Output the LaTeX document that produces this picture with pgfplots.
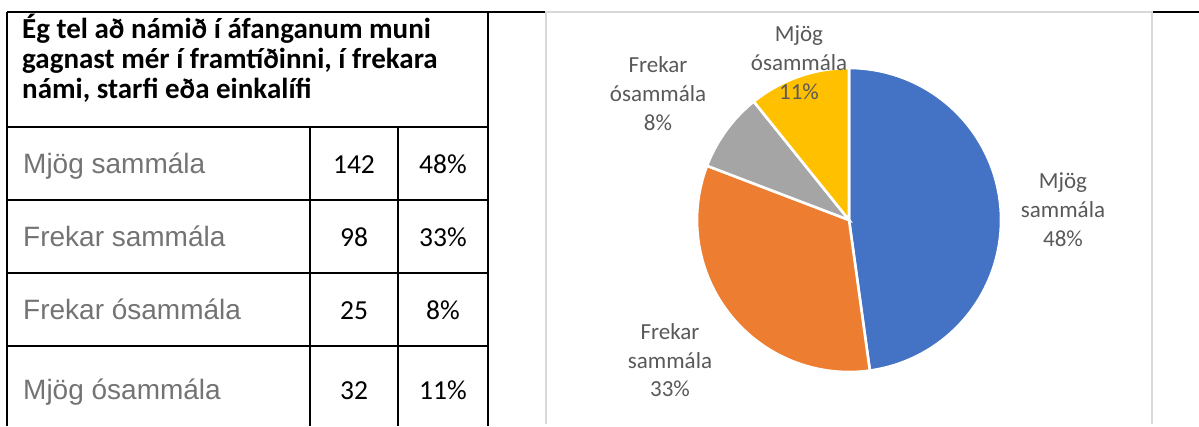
\documentclass[border=0pt]{standalone}
\usepackage{pgfplots}
\pgfplotsset{compat=1.18}
\usepackage{fontspec}
\setmainfont{Carlito}
\newfontfamily\arialfont{Liberation Sans}

\definecolor{pieblue}{HTML}{4472C4}
\definecolor{pieorange}{HTML}{ED7D31}
\definecolor{piegray}{HTML}{A5A5A5}
\definecolor{pieyellow}{HTML}{FFC000}
\definecolor{labgray}{HTML}{595959}
\definecolor{rowgray}{HTML}{737373}
\definecolor{boxgray}{HTML}{D9D9D9}

% fjoldi svara
\def\nA{142}% Mjog sammala
\def\nB{98}%  Frekar sammala
\def\nC{25}%  Frekar osammala
\def\nD{32}%  Mjog osammala

\begin{document}
\begin{tikzpicture}[x=1bp,y=1bp]
\useasboundingbox (0,-426) rectangle (1199,0);
\pgfmathsetmacro\tot{\nA+\nB+\nC+\nD}
\pgfmathsetmacro\aA{90-(\nA/\tot)*360}
\pgfmathsetmacro\aB{\aA-(\nB/\tot)*360}
\pgfmathsetmacro\aC{\aB-(\nC/\tot)*360}
\pgfmathsetmacro\aD{\aC-(\nD/\tot)*360}

\begin{scope}[yscale=-1]
% tafla
\draw[line width=2.2bp] (7,12) -- (1199,12);
\draw[line width=2.2bp] (7,12) -- (7,426) (488,12) -- (488,426);
\draw[line width=2.2bp] (310,127) -- (310,426) (398,127) -- (398,426);
\foreach \yy in {127,200,273,346} \draw[line width=2.2bp] (7,\yy) -- (488,\yy);

\begin{scope}[every node/.style={inner sep=0pt}]
\node[anchor=base west, font=\bfseries\fontsize{29bp}{30bp}\selectfont] at (22,38) {Ég tel að námið í áfanganum muni};
\node[anchor=base west, font=\bfseries\fontsize{29bp}{30bp}\selectfont] at (22,68) {gagnast mér í framtíðinni, í frekara};
\node[anchor=base west, font=\bfseries\fontsize{29bp}{30bp}\selectfont] at (22,98) {námi, starfi eða einkalífi};

\foreach \yy/\txt/\n/\p in {173/Mjög sammála/142/48,246/Frekar sammála/98/33,319/Frekar ósammála/25/8,399/Mjög ósammála/32/11}{
  \node[anchor=base west, text=rowgray, font=\arialfont\fontsize{28bp}{34bp}\selectfont] at (23,\yy) {\txt};
  \node[anchor=base, font=\fontsize{27.5bp}{33bp}\selectfont] at (354,\yy) {\n};
  \node[anchor=base, font=\fontsize{27.5bp}{33bp}\selectfont] at (443,\yy) {\p\%};
}
\end{scope}

% kassi utan um kokuritid
\draw[boxgray, line width=2bp, fill=white] (546,424) -- (546,12) -- (1152,12) -- (1152,424);
\end{scope}

\begin{axis}[at={(849,-220)}, anchor=origin, width=606bp, height=414bp, scale only axis,
  xmin=-303, xmax=303, ymin=-206, ymax=208, axis lines=none, clip=false]
\addplot[fill=pieblue, draw=white, line width=2.6bp, domain=\aA:90, samples=120] ({152*cos(x)},{152*sin(x)}) -- (axis cs:0,0) -- cycle;
\addplot[fill=pieorange, draw=white, line width=2.6bp, domain=\aB:\aA, samples=90] ({152*cos(x)},{152*sin(x)}) -- (axis cs:0,0) -- cycle;
\addplot[fill=piegray, draw=white, line width=2.6bp, domain=\aC:\aB, samples=30] ({152*cos(x)},{152*sin(x)}) -- (axis cs:0,0) -- cycle;
\addplot[fill=pieyellow, draw=white, line width=2.6bp, domain=\aD:\aC, samples=30] ({152*cos(x)},{152*sin(x)}) -- (axis cs:0,0) -- cycle;
\end{axis}

\begin{scope}[yscale=-1, every node/.style={inner sep=0pt, anchor=base, text=labgray, font=\fontsize{23bp}{29bp}\selectfont}]
\node at (1063,188) {Mjög};
\node at (1063,217) {sammála};
\node at (1063,246) {48\%};
\node at (670,339) {Frekar};
\node at (670,368) {sammála};
\node at (670,396) {33\%};
\node at (658,72) {Frekar};
\node at (658,101) {ósammála};
\node at (658,130) {8\%};
\node at (799,41) {Mjög};
\node at (799,70) {ósammála};
\node at (799,99) {11\%};
\end{scope}
\end{tikzpicture}
\end{document}
